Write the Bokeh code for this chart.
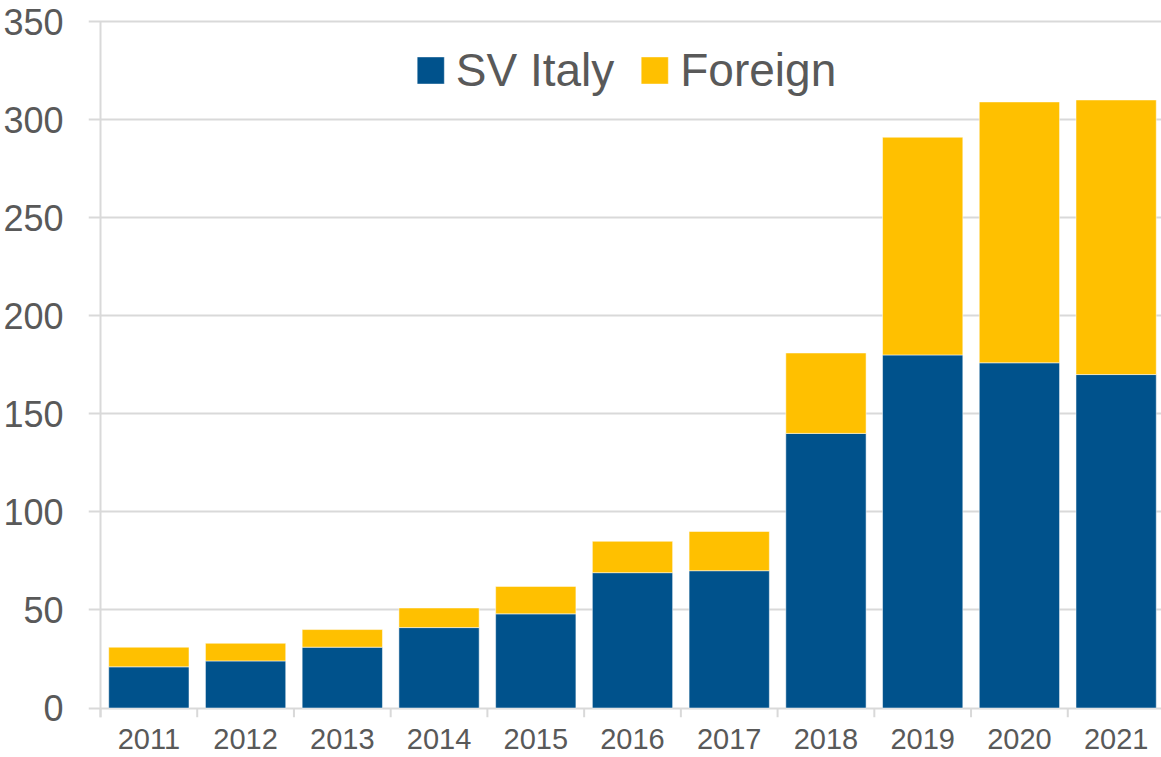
from bokeh.plotting import figure
from bokeh.models import Range1d, FixedTicker, ColumnDataSource, Legend
from bokeh.embed import file_html
from bokeh.resources import INLINE

years = ["2011", "2012", "2013", "2014", "2015", "2016", "2017", "2018", "2019", "2020", "2021"]
sv_italy = [21, 24, 31, 41, 48, 69, 70, 140, 180, 176, 170]
foreign = [10, 9, 9, 10, 14, 16, 20, 41, 111, 133, 140]
y_ticks = [0, 50, 100, 150, 200, 250, 300, 350]

BLUE = "#00528C"
GOLD = "#FFC000"
GRAY_TXT = "#595959"
GRID = "#D9D9D9"

xs = [i + 0.5 for i in range(len(years))]
src = ColumnDataSource(dict(x=xs, year=years, sv=sv_italy, fo=foreign))

p = figure(width=1161, height=757, output_backend="svg", toolbar_location=None,
           x_range=Range1d(-0.124, 10.969), y_range=Range1d(-4.84, 354.59),
           min_border_left=88, min_border_right=0, min_border_top=12, min_border_bottom=40)
p.outline_line_color = None
p.background_fill_color = "white"
p.border_fill_color = "white"

r = p.vbar_stack(["sv", "fo"], x="x", width=0.83, source=src, color=[BLUE, GOLD],
                 line_color="white", line_width=1, line_alpha=0.5)

# boundary tick marks and y axis line
bx = list(range(len(years) + 1))
p.segment(x0=bx, y0=[0] * len(bx), x1=bx, y1=[-4.8] * len(bx), line_color=GRID, line_width=2)
p.segment(x0=[0], y0=[-4.8], x1=[0], y1=[350], line_color=GRID, line_width=2)

# axes
p.yaxis.ticker = FixedTicker(ticks=y_ticks)
p.yaxis.axis_line_color = None
p.yaxis.major_tick_line_color = None
p.yaxis.minor_tick_line_color = None
p.yaxis.major_tick_out = 0
p.yaxis.major_tick_in = 0
p.yaxis.minor_tick_out = 0
p.yaxis.major_label_text_font = "Liberation Sans"
p.yaxis.major_label_text_font_size = "36px"
p.yaxis.major_label_text_color = GRAY_TXT
p.yaxis.major_label_standoff = 25

p.xaxis.ticker = FixedTicker(ticks=xs)
p.xaxis.major_label_overrides = {x: y for x, y in zip(xs, years)}
p.xaxis.axis_line_color = None
p.xaxis.major_tick_line_color = None
p.xaxis.minor_tick_line_color = None
p.xaxis.major_tick_out = 0
p.xaxis.major_tick_in = 0
p.xaxis.minor_tick_out = 0
p.xaxis.major_label_text_font = "Liberation Sans"
p.xaxis.major_label_text_font_size = "29px"
p.xaxis.major_label_text_color = GRAY_TXT
p.xaxis.major_label_standoff = 11

p.xgrid.grid_line_color = None
p.ygrid.ticker = FixedTicker(ticks=y_ticks)
p.ygrid.grid_line_color = GRID
p.ygrid.grid_line_width = 2

legend = Legend(items=[("SV Italy", [r[0]]), ("Foreign", [r[1]])],
                location="top_center", orientation="horizontal")
legend.label_text_font = "Liberation Sans"
legend.label_text_font_size = "46px"
legend.label_text_color = GRAY_TXT
legend.glyph_width = 34
legend.glyph_height = 34
legend.label_standoff = 9
legend.spacing = 23
legend.padding = 0
legend.margin = 31
legend.border_line_color = None
legend.background_fill_alpha = 0
p.add_layout(legend, "center")

open("out.html", "w").write(file_html(p, INLINE))
